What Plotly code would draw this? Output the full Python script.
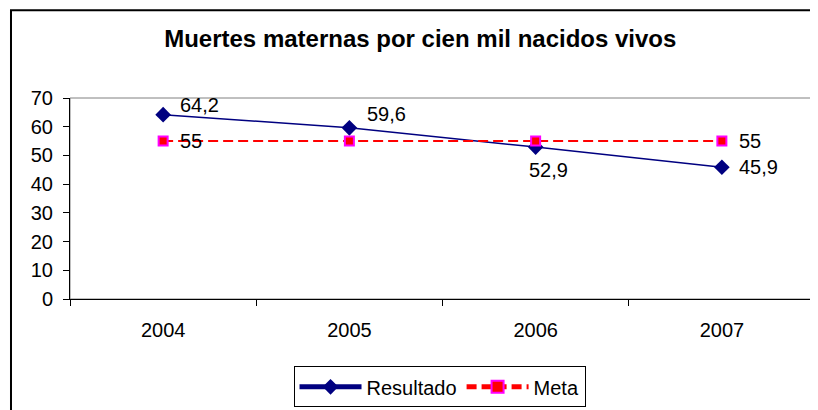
import plotly.graph_objects as go

years = ["2004", "2005", "2006", "2007"]
resultado = [64.2, 59.6, 52.9, 45.9]
meta = [55, 55, 55, 55]
meta_labelled = [True, False, False, True]
y_ticks = [0, 10, 20, 30, 40, 50, 60, 70]

FONT = "Liberation Sans, Arial, sans-serif"

# label placement (offsets in px relative to each point)
res_label_anchor = ["left", "left", "center", "left"]
res_label_dx = [15, 16, 13, 15]
res_label_dy = [10, 14, -23, 0]

fig = go.Figure()
fig.add_trace(go.Scatter(
    x=years, y=resultado, name="Resultado", mode="lines+markers",
    line=dict(color="#000080", width=1.5),
    marker=dict(symbol="diamond", size=12, color="#000080"),
    cliponaxis=False,
))
fig.add_trace(go.Scatter(
    x=years, y=meta, name="Meta", mode="lines+markers",
    line=dict(color="#FF0000", width=2, dash="10px,5px"),
    marker=dict(symbol="square", size=9, color="#FF0000",
                line=dict(color="#FF00FF", width=2)),
    cliponaxis=False,
))

# category axis: annotations use the category index (numeric-looking names
# would otherwise be read as numbers)
annotations = []
for i, (v, anc, dx, dy) in enumerate(zip(resultado, res_label_anchor, res_label_dx, res_label_dy)):
    annotations.append(dict(x=i, y=v, xref="x", yref="y", showarrow=False,
                            text=f"{v:.1f}".replace(".", ","),
                            xanchor=anc, yanchor="middle", xshift=dx, yshift=dy,
                            font=dict(family=FONT, size=20, color="#000000")))
for i, (v, show) in enumerate(zip(meta, meta_labelled)):
    if show:
        annotations.append(dict(x=i, y=v, xref="x", yref="y", showarrow=False,
                                text=f"{v:g}", xanchor="left", yanchor="middle",
                                xshift=15, yshift=0,
                                font=dict(family=FONT, size=20, color="#000000")))

# page body has an 8px margin, so the figure is 8px smaller and shifted
fig.update_layout(
    width=810, height=402,
    margin=dict(l=62, r=3, t=90, b=108),
    paper_bgcolor="white", plot_bgcolor="white",
    font=dict(family=FONT, size=20, color="#000000"),
    title=dict(text="<b>Muertes maternas por cien mil nacidos vivos</b>",
               font=dict(family=FONT, size=24, color="#000000"),
               x=0.509, xref="container", xanchor="center",
               y=0.925, yref="container", yanchor="middle"),
    showlegend=True,
    legend=dict(orientation="h", x=0.496, xanchor="center", y=-0.335, yanchor="top",
                bordercolor="#000000", borderwidth=1, bgcolor="white",
                font=dict(family=FONT, size=20, color="#000000"),
                itemwidth=62, itemsizing="constant"),
    annotations=annotations,
    xaxis=dict(type="category", range=[-0.5, 3.5], tickson="boundaries",
               showline=True, linecolor="#000000", linewidth=1,
               ticks="outside", ticklen=6, tickcolor="#000000",
               showgrid=False, zeroline=False, ticklabelstandoff=13,
               tickfont=dict(family=FONT, size=20, color="#000000")),
    yaxis=dict(range=[0, 70], tickvals=y_ticks,
               showline=True, linecolor="#000000", linewidth=1,
               ticks="outside", ticklen=6, tickcolor="#000000",
               showgrid=False, zeroline=False, ticklabelstandoff=6,
               tickfont=dict(family=FONT, size=20, color="#000000")),
    shapes=[
        dict(type="rect", xref="paper", yref="paper", x0=0, x1=1, y0=0, y1=1,
             line=dict(color="#808080", width=1), layer="below"),
        dict(type="rect", xref="paper", yref="paper", x0=-0.0792, x1=1.2,
             y0=-0.6, y1=1.436, line=dict(color="#000000", width=2), layer="above"),
    ],
)

fig.write_html("out.html")
